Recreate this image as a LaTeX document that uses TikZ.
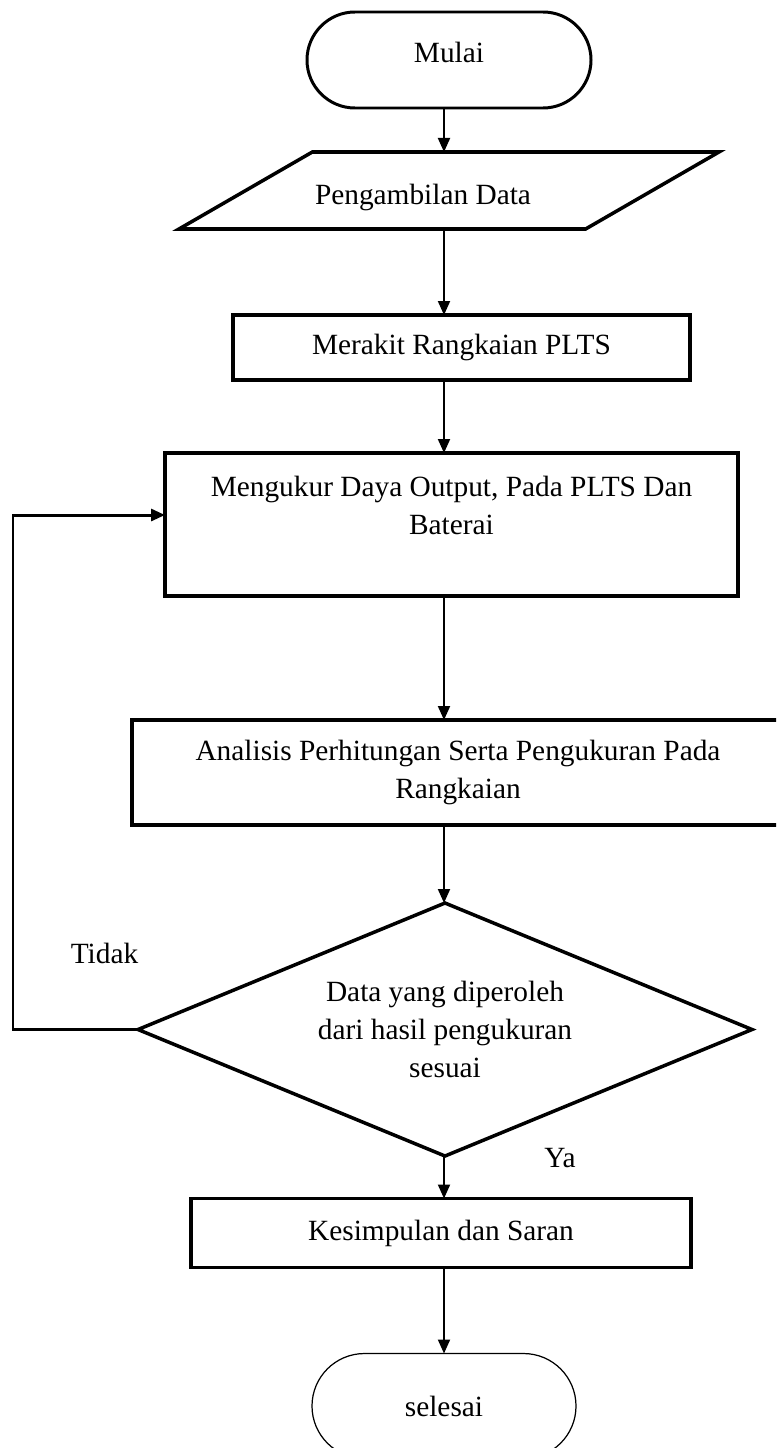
\documentclass[tikz,border=0pt]{standalone}
\usepackage{fontspec}
\setmainfont{Liberation Serif}
\usetikzlibrary{positioning,arrows.meta,shapes.geometric,shapes.misc}

\begin{document}
\begin{tikzpicture}[->, >={Triangle[length=0.28cm,width=0.24cm]}, node distance=1.5cm, every node/.style={font=\fontsize{16.7}{21.6}\selectfont}, term/.style={rounded rectangle, draw, line width=1.7pt, minimum width=5.68cm, minimum height=1.92cm, inner sep=0pt, outer sep=0pt}, proc/.style={rectangle, draw, line width=2pt, align=center, inner sep=0pt, outer sep=0pt}, io/.style={trapezium, trapezium left angle=30, trapezium right angle=150, trapezium stretches body, draw, line width=2pt, minimum width=10.8cm, text height=1.055cm, text depth=0.485cm, inner sep=0pt, outer sep=0pt}, decide/.style={diamond, draw, line width=2pt, aspect=2.43, minimum width=12.28cm, minimum height=5.06cm, inner sep=0pt, outer sep=0pt, align=center}, every edge/.append style={line width=1.1pt}]

\path[use as bounding box, clip] (0,0) rectangle (15.52,-28.96);
\coordinate (spine) at (8.88,0);
\coordinate (back) at (0.26,0);

\node[term, text depth=0.32cm] (mulai) at (8.98,-1.20) {Mulai};
\node[io] (data) [below=0.88cm of mulai] {Pengambilan Data\hspace*{1.04cm}};
\node[proc, minimum width=9.14cm, minimum height=1.30cm] (rakit) [below=1.72cm of data, xshift=0.25cm] {Merakit Rangkaian PLTS};
\node[proc, minimum width=11.46cm, minimum height=2.86cm] (ukur) [below=1.46cm of rakit, xshift=-0.20cm] {Mengukur Daya Output, Pada PLTS Dan\\ Baterai\\ \mbox{}};
\node[proc, minimum width=13.04cm, minimum height=2.10cm] (analisis) [below=2.48cm of ukur, xshift=0.13cm] {Analisis Perhitungan Serta Pengukuran Pada\\ Rangkaian};
\node[decide] (cek) [below=1.56cm of analisis, xshift=-0.26cm] {Data yang diperoleh\\ dari hasil pengukuran\\ sesuai};
\node[proc, minimum width=10cm, minimum height=1.38cm] (simpul) [below=0.85cm of cek, xshift=-0.08cm] {Kesimpulan dan Saran};
\node[term, minimum width=5.28cm, minimum height=2.1cm, line width=0.7pt] (selesai) [below=1.72cm of simpul, xshift=0.06cm] {selesai};

\node (tidak) at (2.09,-19.06) {Tidak};
\node (ya) at (11.2,-23.16) {Ya};

\path 
    (mulai.south -| spine) edge (data.north -| spine)
    (data.south -| spine) edge (rakit.north -| spine)
    (rakit.south -| spine) edge (ukur.north -| spine)
    (ukur.south -| spine) edge (analisis.north -| spine)
    (analisis.south -| spine) edge (cek.north -| spine)
    (cek.south -| spine) edge (simpul.north -| spine)
    (simpul.south -| spine) edge (selesai.north -| spine);
\draw[line width=1.7pt] (cek.west) -- (cek.west -| back) |- ([yshift=0.19cm]ukur.west);
\end{tikzpicture}
\end{document}
